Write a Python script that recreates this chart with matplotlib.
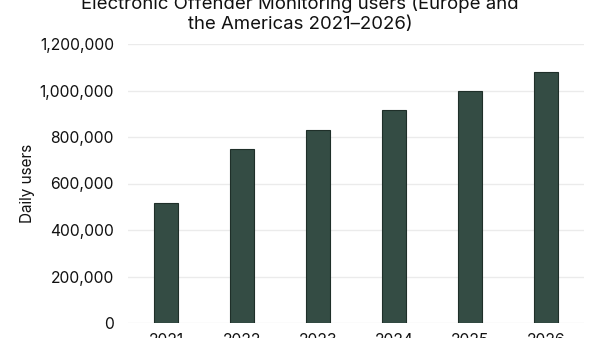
import matplotlib.pyplot as plt
from matplotlib.ticker import FuncFormatter

years = ["2021", "2022", "2023", "2024", "2025", "2026"]
users = [515000, 750000, 830000, 915000, 1000000, 1080000]
yticks = [0, 200000, 400000, 600000, 800000, 1000000, 1200000]

plt.rcParams['font.family'] = ['Inter', 'DejaVu Sans']

fig = plt.figure(figsize=(6, 3.38), dpi=100)
ax = fig.add_axes([128 / 600, 1 - 323 / 338, 456 / 600, 279 / 338])

ax.bar(range(len(years)), users, width=0.31, color="#344c44",
       edgecolor="#1f2f29", linewidth=0.8, zorder=3)

ax.set_xlim(-0.5, len(years) - 0.5)
ax.set_ylim(0, 1200000)
ax.set_xticks(range(len(years)))
ax.set_xticklabels(years)
ax.set_yticks(yticks)
ax.yaxis.set_major_formatter(FuncFormatter(lambda v, p: "{:,.0f}".format(v)))

ax.grid(axis="y", color="#ebebeb", linewidth=1, zorder=0)
for s in ax.spines.values():
    s.set_visible(False)
ax.tick_params(length=0, labelsize=11.3, colors="#111111")
ax.tick_params(axis="y", pad=10)
ax.tick_params(axis="x", pad=7)

ax.set_ylabel("Daily users", fontsize=11, color="#111111")
ax.yaxis.set_label_coords((35 - 128) / 456, 0.5)

fig.text(0.5, 1 - 33 / 338, "Electronic Offender Monitoring users (Europe and\nthe Americas 2021\u20132026)",
         ha="center", va="bottom", fontsize=13.4, color="#111111", linespacing=1.2)

fig.savefig("out.png", dpi=100)
